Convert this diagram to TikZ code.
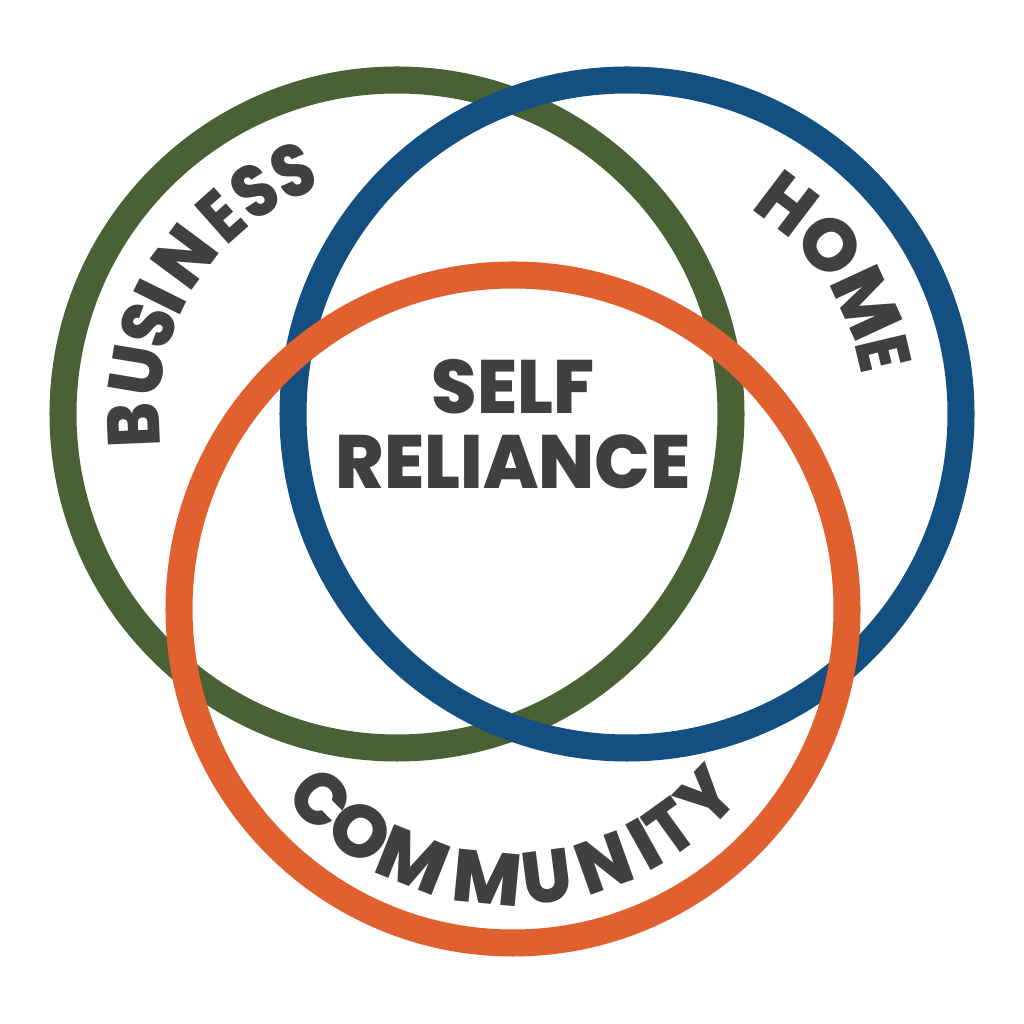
\documentclass[tikz,border=0pt]{standalone}
\usepackage{fontspec}
\setmainfont{Poppins}
\newfontfamily\labelfont{Poppins ExtraBold}
\newfontfamily\centerfont{Poppins ExtraBold}[FakeStretch=0.97]
\definecolor{ringgreen}{HTML}{4A6135}
\definecolor{ringblue}{HTML}{134F80}
\definecolor{ringorange}{HTML}{E1602F}
\definecolor{labelgray}{HTML}{404040}
\tikzset{
    ring/.style={line width=0.27cm},
    letter/.style={anchor=base,inner sep=0pt,text=labelgray,font=\fontsize{21}{21}\labelfont}
}
\begin{document}
\begin{tikzpicture}[x=0.01cm,y=0.01cm]
    \useasboundingbox (0,0) rectangle (1024,1024);
    \draw[ring,ringgreen] (397,610) circle[radius=334];
    \draw[ring,ringblue] (627,610) circle[radius=334];
    \draw[ring,ringorange] (513,415) circle[radius=334];
    \foreach \ltr/\ang/\wid [count=\i] in {B/182.4/.9,U/170.5/.95,S/160.3/.85,I/153.6/1,N/143.4/.95,E/131.6/.8,S/122.6/.85,S/113.1/.85}
        \node[letter,rotate=\ang-90] (business\i) at ([shift={(\ang:238)}]397,610) {\scalebox{\wid}[1]{\ltr}};
    \foreach \ltr/\ang/\wid [count=\i] in {H/52.8/.95,O/39.6/1,M/24.8/1,E/13.4/.8}
        \node[letter,rotate=\ang-90] (home\i) at ([shift={(\ang:238)}]627,610) {\scalebox{\wid}[1]{\ltr}};
    \foreach \ltr/\ang/\wid [count=\i] in {C/224.7/.95,O/235.4/1,M/248.3/1,M/264.5/1,U/277.2/.95,N/289.6/.95,I/299.2/1,T/305.8/.9,Y/316/.95}
        \node[letter,rotate=\ang+90] (community\i) at ([shift={(\ang:296)}]513,415) {\scalebox{\wid}[1]{\ltr}};
    \node[font=\fontsize{21.5}{21.5}\centerfont,text=labelgray,align=center] (selfreliance) at (513,600) {SELF\\RELIANCE};
\end{tikzpicture}
\end{document}
